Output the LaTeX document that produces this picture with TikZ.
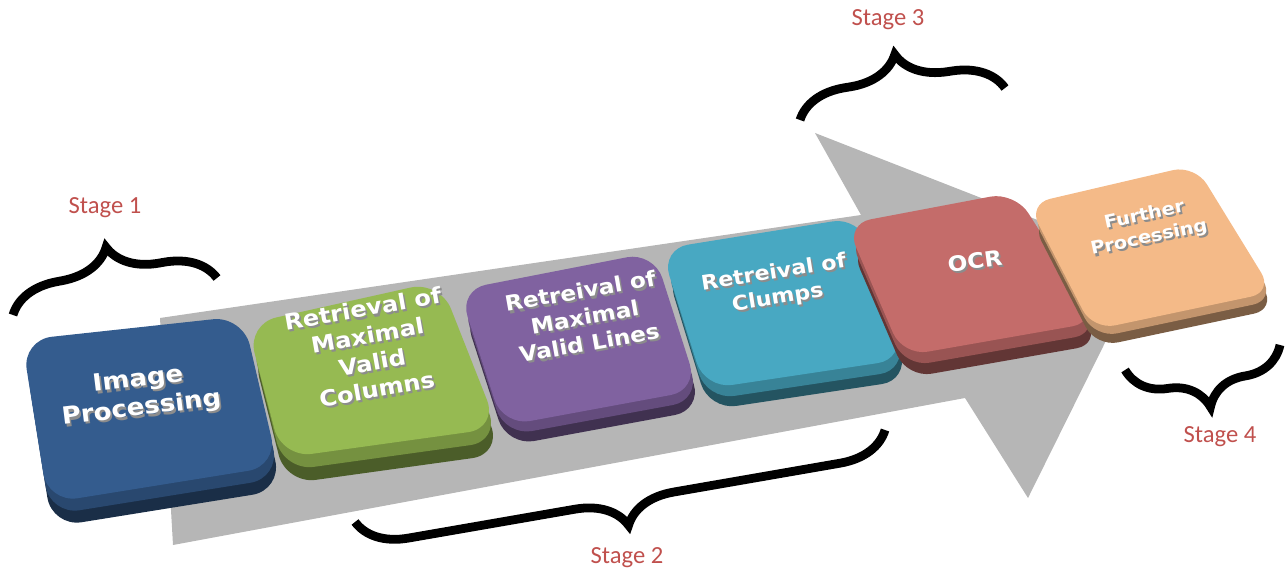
\documentclass[tikz,border=0pt]{standalone}
\usepackage{fontspec}
\usetikzlibrary{decorations.pathreplacing}
\newfontfamily\keyfont{DejaVu Sans}[FakeStretch=1.1]
\newfontfamily\stagefont{Carlito}
\definecolor{arrowgray}{RGB}{182,182,182}
\definecolor{stagered}{RGB}{192,80,77}
\definecolor{keyblue}{RGB}{52,92,142}
\definecolor{keygreen}{RGB}{150,186,82}
\definecolor{keypurple}{RGB}{128,98,160}
\definecolor{keycyan}{RGB}{72,168,194}
\definecolor{keyred}{RGB}{196,108,106}
\definecolor{keyorange}{RGB}{244,186,136}
% white letters with a grey drop shadow
\newcommand{\sh}[1]{\leavevmode\rlap{\hspace{0.3mm}\raisebox{-0.5mm}{\color{black!45}#1}}#1}
\tikzset{
  stagebrace/.style={decorate, decoration={brace, amplitude=10mm}, line width=5pt},
  stagelabel/.style={font=\stagefont\fontsize{14}{16}\selectfont, text=stagered},
  keytext/.style n args={2}{text=white, align=center, font=\keyfont\bfseries\fontsize{#1}{#2}\selectfont},
}
\begin{document}
\begin{tikzpicture}[x=0.2mm, y=-0.2mm]
	\useasboundingbox (0,0) rectangle (1285,574);

	% Arrow
	\fill[arrowgray] (160,318) -- (861,215) -- (815,133) -- (1145,262) -- (1028,498) -- (965,398) -- (173,545) -- cycle;

	% Braces
	\draw[stagebrace] (13,315) -- (217,278);
	\draw[stagebrace] (885,430) -- (355,522);
	\draw[stagebrace] (800,120) -- (1005,88);
	\draw[stagebrace] (1280,345) -- (1125,370);
	\node[stagelabel] (s1) at (105,208) {Stage 1};
	\node[stagelabel] (s2) at (627,558) {Stage 2};
	\node[stagelabel] (s3) at (888,20) {Stage 3};
	\node[stagelabel] (s4) at (1220,437) {Stage 4};

	% Image Processing
	\fill[keyblue!50!black, rounded corners=6mm] (26,362) -- (247,338) -- (282,490) -- (52,527) -- cycle;
	\fill[keyblue!78!black, rounded corners=6mm] (24,350) -- (245,326) -- (280,478) -- (50,515) -- cycle;
	\fill[keyblue, rounded corners=6mm] (22,340) -- (243,316) -- (278,466) -- (48,503) -- cycle;
	\node[keytext={13.5}{16.5}, rotate=7] (ip) at (140,396) {\sh{Image}\\\sh{Processing}};

	% Retrieval of Maximal Valid Columns
	\fill[keygreen!50!black, rounded corners=6mm] (252,349) -- (444,306) -- (502,454) -- (286,484) -- cycle;
	\fill[keygreen!78!black, rounded corners=6mm] (250,336) -- (442,293) -- (500,441) -- (284,471) -- cycle;
	\fill[keygreen, rounded corners=6mm] (247,324) -- (440,281) -- (498,428) -- (282,458) -- cycle;
	\node[keytext={12.5}{15.5}, rotate=10] (mvc) at (370,350) {\sh{Retrieval of}\\\sh{Maximal}\\\sh{Valid}\\\sh{Columns}};

	% Retreival of Maximal Valid Lines
	\fill[keypurple!50!black, rounded corners=5.5mm] (463,310) -- (658,272) -- (702,410) -- (507,446) -- cycle;
	\fill[keypurple!78!black, rounded corners=5.5mm] (461,300) -- (656,262) -- (700,400) -- (505,436) -- cycle;
	\fill[keypurple, rounded corners=5.5mm] (459,290) -- (654,252) -- (698,390) -- (503,426) -- cycle;
	\node[keytext={12}{15}, rotate=10] (mvl) at (585,318) {\sh{Retreival of}\\\sh{Maximal}\\\sh{Valid Lines}};

	% Retreival of Clumps
	\fill[keycyan!50!black, rounded corners=5.5mm] (666,270) -- (864,238) -- (909,380) -- (709,410) -- cycle;
	\fill[keycyan!78!black, rounded corners=5.5mm] (664,260) -- (862,228) -- (907,370) -- (707,400) -- cycle;
	\fill[keycyan, rounded corners=5.5mm] (661,249) -- (860,217) -- (905,359) -- (705,389) -- cycle;
	\node[keytext={11.5}{14.5}, rotate=9] (cl) at (776,287) {\sh{Retreival of}\\\sh{Clumps}};

	% OCR
	\fill[keyred!50!black, rounded corners=5mm] (850,246) -- (1019,214) -- (1101,344) -- (907,378) -- cycle;
	\fill[keyred!78!black, rounded corners=5mm] (848,235) -- (1017,203) -- (1099,333) -- (905,367) -- cycle;
	\fill[keyred, rounded corners=5mm] (846,224) -- (1015,192) -- (1097,322) -- (903,356) -- cycle;
	\node[keytext={12}{15}, rotate=8] (ocr) at (975,262) {\sh{OCR}};

	% Further Processing
	\fill[keyorange!50!black, rounded corners=4.5mm] (1031,221) -- (1198,182) -- (1276,309) -- (1096,347) -- cycle;
	\fill[keyorange!80!black, rounded corners=4.5mm] (1030,212) -- (1197,173) -- (1275,300) -- (1095,338) -- cycle;
	\fill[keyorange, rounded corners=4.5mm] (1028,204) -- (1195,165) -- (1273,292) -- (1093,330) -- cycle;
	\node[keytext={10}{13}, rotate=12] (fp) at (1147,228) {\sh{Further}\\\sh{Processing}};
\end{tikzpicture}
\end{document}
